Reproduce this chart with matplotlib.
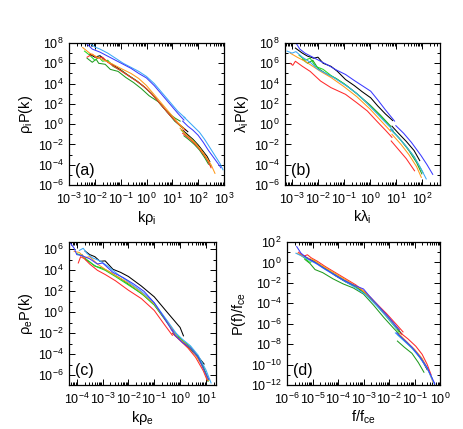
import numpy as np
import matplotlib
matplotlib.use("Agg")
import matplotlib.pyplot as plt
from matplotlib.ticker import FixedLocator, NullFormatter, LogLocator

plt.rcParams['font.family'] = ['Liberation Sans', 'DejaVu Sans']
plt.rcParams['mathtext.default'] = 'regular'

# colours of the series
COLORS = {'black': '#000000', 'blue': '#3a3aff', 'lightblue': '#3aa8f8',
          'red': '#ff2a2a', 'orange': '#ff9a1a', 'green': '#22d822',
          'darkgreen': '#1f9a1f'}

# ---------------- panel (a): (log10 k rho_i, log10 P) ----------------
a_black_lo = [(-2.2,6.9),(-2.0,6.6),(-1.8,6.75),(-1.6,6.3),(-1.3,5.85),(-1.0,5.35),(-0.7,4.8),(-0.4,4.3),(-0.1,3.7),(0.2,3.0),(0.5,2.1),(0.8,1.2),(1.1,0.3),(1.4,-0.3),(1.6,-0.75)]
a_black_hi = [(1.4,-0.6),(1.6,-1.05),(1.8,-1.5),(2.0,-2.05),(2.2,-2.7),(2.35,-3.2),(2.45,-3.7)]
a_red_lo = [(-2.3,6.6),(-2.1,6.9),(-1.9,6.5),(-1.7,6.6),(-1.5,6.1),(-1.2,5.6),(-0.9,5.1),(-0.6,4.6),(-0.3,4.1),(0.0,3.5),(0.3,2.7),(0.6,1.8),(0.9,0.9),(1.2,0.1),(1.5,-0.6)]
a_red_hi = [(1.4,-0.9),(1.6,-1.3),(1.8,-1.75),(2.0,-2.3),(2.2,-2.95),(2.35,-3.5),(2.5,-4.3)]
a_orange_lo = [(-2.47,7.55),(-2.2,7.0),(-1.9,6.6),(-1.6,6.25),(-1.3,5.9),(-1.0,5.5),(-0.6,5.0),(-0.3,4.5),(0.0,3.8),(0.3,2.9),(0.6,2.0),(0.9,1.1),(1.2,0.2),(1.45,-0.45)]
a_orange_hi = [(1.3,-0.4),(1.5,-0.95),(1.7,-1.4),(1.9,-1.9),(2.1,-2.5),(2.3,-3.2),(2.5,-4.0),(2.65,-4.85)]
a_green_lo = [(-2.4,7.2),(-2.2,6.8),(-2.0,6.3),(-1.85,6.6),(-1.7,6.2),(-1.5,6.3),(-1.3,5.7),(-1.0,5.3),(-0.7,4.8),(-0.4,4.3),(-0.1,3.7),(0.2,3.0),(0.5,2.1),(0.8,1.2),(1.1,0.3),(1.4,-0.4)]
a_green_hi = [(1.35,-0.6),(1.6,-1.2),(1.8,-1.6),(2.0,-2.2),(2.2,-2.9),(2.35,-3.5),(2.5,-4.2)]
a_darkgreen_lo = [(-2.3,6.5),(-2.1,6.1),(-1.95,6.4),(-1.85,6.0),(-1.6,5.9),(-1.4,5.4),(-1.1,5.2),(-0.8,4.6),(-0.5,4.1),(-0.2,3.5),(0.1,2.8),(0.46,2.2),(0.8,1.2),(1.1,0.6),(1.3,0.3)]
a_darkgreen_hi = [(1.45,-1.15),(1.65,-1.55),(1.85,-2.0),(2.05,-2.55),(2.25,-3.3),(2.4,-3.95)]
a_blue_lo = [(-2.34,8.0),(-2.1,7.4),(-1.8,7.1),(-1.5,6.7),(-1.2,6.3),(-0.9,5.9),(-0.6,5.5),(-0.3,5.0),(0.0,4.55),(0.3,3.8),(0.6,2.9),(0.9,2.0),(1.2,1.1),(1.45,0.4)]
a_blue_hi = [(1.4,0.3),(1.6,-0.2),(1.8,-0.6),(2.0,-1.1),(2.2,-1.8),(2.4,-2.6),(2.6,-3.3),(2.8,-4.0),(2.88,-4.3)]
a_lightblue_lo = [(-2.2,8.0),(-2.0,7.6),(-1.8,7.4),(-1.5,7.0),(-1.2,6.5),(-0.9,6.0),(-0.6,5.6),(-0.3,5.2),(0.0,4.7),(0.3,4.0),(0.6,3.1),(0.9,2.2),(1.2,1.3),(1.5,0.6)]
a_lightblue_hi = [(1.45,0.7),(1.65,0.2),(1.85,-0.3),(2.05,-0.8),(2.25,-1.5),(2.45,-2.3),(2.65,-3.1),(2.85,-3.9),(2.96,-4.5)]

# ---------------- panel (b): (log10 k lambda_i, log10 P) ----------------
b_blue_lo = [(-2.87,8.1),(-2.7,7.4),(-2.5,7.0),(-2.2,6.6),(-1.9,6.2),(-1.6,5.8),(-1.3,5.35),(-0.94,4.9),(-0.6,4.3),(-0.3,3.8),(0.03,3.25),(0.3,2.4),(0.6,1.4),(0.95,0.3)]
b_blue_hi = [(1.0,-0.15),(1.3,-0.9),(1.6,-1.8),(1.97,-3.1),(2.2,-4.0),(2.42,-4.95)]
b_black_lo = [(-2.87,7.5),(-2.6,7.0),(-2.4,6.7),(-2.16,6.5),(-2.0,6.6),(-1.8,6.0),(-1.5,5.7),(-1.25,5.2),(-0.94,4.4),(-0.6,3.8),(-0.3,3.2),(0.03,2.6),(0.3,1.8),(0.6,1.0),(0.88,0.35)]
b_black_hi = [(0.85,-0.2),(1.1,-0.9),(1.4,-1.7),(1.7,-2.6),(1.92,-3.6)]
b_lightblue_lo = [(-3.19,7.2),(-3.0,7.0),(-2.85,7.15),(-2.6,6.6),(-2.3,6.1),(-2.0,5.4),(-1.7,5.0),(-1.4,4.6),(-1.1,4.1),(-0.8,3.6),(-0.5,3.0),(-0.2,2.3),(0.1,1.5),(0.4,0.7),(0.7,-0.1),(0.9,-0.6)]
b_lightblue_hi = [(0.8,-0.55),(1.1,-1.3),(1.4,-2.2),(1.7,-3.2),(1.95,-4.3),(2.17,-5.4)]
b_red_lo = [(-3.07,6.0),(-2.97,5.8),(-2.87,6.2),(-2.6,5.7),(-2.3,5.2),(-1.9,4.25),(-1.5,3.6),(-0.94,2.94),(-0.5,2.1),(-0.1,1.3),(0.3,0.2),(0.6,-0.6),(0.85,-1.3)]
b_red_hi = [(0.82,-1.66),(1.1,-2.5),(1.4,-3.4),(1.72,-4.6)]
b_orange_lo = [(-3.07,7.0),(-2.8,6.6),(-2.5,6.2),(-2.2,5.7),(-1.9,5.2),(-1.5,4.6),(-1.0,3.7),(-0.5,2.7),(0.0,1.5),(0.4,0.4),(0.8,-0.7)]
b_orange_hi = [(0.85,-1.0),(1.2,-2.0),(1.5,-3.0),(1.8,-4.2),(1.98,-5.25)]
b_green_lo = [(-2.73,6.8),(-2.5,6.3),(-2.3,6.5),(-2.1,5.7),(-1.8,5.4),(-1.5,4.8),(-1.0,4.0),(-0.5,3.0),(0.0,1.8),(0.4,0.8),(0.8,-0.3)]
b_green_hi = [(0.8,-0.5),(1.1,-1.3),(1.4,-2.2),(1.7,-3.2),(2.04,-4.76)]
b_darkgreen_lo = [(-2.6,6.4),(-2.4,6.0),(-2.2,6.3),(-2.0,5.5),(-1.7,5.0),(-1.3,4.5),(-0.9,3.8),(-0.5,3.0),(0.0,1.9),(0.4,0.9),(0.8,-0.2)]
b_darkgreen_hi = [(0.85,-0.6),(1.2,-1.6),(1.5,-2.6),(1.8,-3.8),(2.0,-4.9)]

# ---------------- panel (c): (log10 k rho_e, log10 P) ----------------
c_black_lo = [(-3.68,5.84),(-3.5,5.5),(-3.3,5.3),(-3.1,4.86),(-2.9,4.9),(-2.6,4.1),(-2.3,3.8),(-2.0,3.41),(-1.5,2.5),(-1.0,1.47),(-0.5,0.0),(0.0,-1.45),(0.13,-2.25)]
c_black_hi = [(-0.06,-2.4),(0.2,-3.0),(0.5,-3.8),(0.75,-4.4),(0.93,-4.94)]
c_blue_lo = [(-4.26,6.64),(-4.1,6.1),(-4.0,5.5),(-3.8,5.4),(-3.5,5.1),(-3.2,4.6),(-3.0,4.7),(-2.6,3.8),(-2.2,3.3),(-1.8,2.7),(-1.4,2.0),(-1.0,0.9),(-0.6,-0.6),(-0.3,-1.8)]
c_blue_hi = [(-0.3,-1.7),(-0.2,-2.2),(0.1,-2.9),(0.4,-3.4),(0.7,-4.3),(1.0,-5.9),(1.1,-6.4)]
c_lightblue_lo = [(-3.9,5.9),(-3.75,6.1),(-3.6,5.6),(-3.4,5.2),(-3.1,4.9),(-2.8,4.4),(-2.4,3.6),(-2.0,2.9),(-1.5,2.0),(-1.0,0.9),(-0.5,-0.8),(-0.1,-2.2)]
c_lightblue_hi = [(-0.2,-1.9),(0.1,-2.6),(0.4,-3.2),(0.7,-4.1),(1.0,-5.5),(1.2,-6.75)]
c_red_lo = [(-3.94,4.7),(-3.85,5.3),(-3.7,5.1),(-3.5,4.6),(-3.2,4.0),(-2.9,3.6),(-2.5,3.0),(-2.0,2.1),(-1.5,1.3),(-1.0,0.17),(-0.6,-1.2),(-0.3,-2.2)]
c_red_hi = [(-0.3,-2.0),(0.0,-2.7),(0.3,-3.4),(0.6,-4.3),(0.9,-5.6),(1.05,-6.5)]
c_orange_lo = [(-4.1,5.8),(-3.9,5.7),(-3.7,5.2),(-3.5,5.3),(-3.2,4.6),(-2.9,4.1),(-2.5,3.5),(-2.0,2.8),(-1.5,1.9),(-1.0,0.8),(-0.5,-0.9),(-0.2,-2.0)]
c_orange_hi = [(-0.35,-1.6),(-0.1,-2.4),(0.2,-3.0),(0.5,-3.7),(0.8,-4.9),(1.1,-6.5)]
c_green_lo = [(-4.0,5.6),(-3.8,5.4),(-3.6,5.0),(-3.4,4.6),(-3.2,4.3),(-2.9,4.0),(-2.5,3.4),(-2.0,2.6),(-1.5,1.8),(-1.0,0.7),(-0.5,-0.9),(-0.1,-2.3)]
c_green_hi = [(-0.2,-2.0),(0.1,-2.7),(0.4,-3.3),(0.7,-4.2),(1.0,-5.8),(1.12,-6.5)]
c_darkgreen_lo = [(-3.8,5.5),(-3.65,5.0),(-3.5,4.8),(-3.3,4.4),(-3.0,4.2),(-2.7,3.8),(-2.3,3.2),(-1.9,2.5),(-1.4,1.6),(-1.0,0.7),(-0.5,-1.0),(-0.2,-2.0)]
c_darkgreen_hi = [(-0.3,-2.0),(0.0,-2.6),(0.3,-3.3),(0.6,-4.0),(0.9,-5.2),(1.08,-6.6)]

# ---------------- panel (d): (log10 f/fce, log10 P/fce) ----------------
d_blue_lo = [(-5.62,1.55),(-5.45,0.9),(-5.2,0.4),(-4.9,0.0),(-4.6,-0.5),(-4.2,-1.1),(-3.8,-1.7),(-3.4,-2.2),(-3.0,-2.6),(-2.8,-3.2),(-2.4,-4.3),(-2.0,-5.4),(-1.6,-6.6)]
d_blue_hi = [(-1.7,-6.9),(-1.4,-7.6),(-1.1,-8.3),(-0.8,-9.2),(-0.5,-10.3),(-0.2,-11.9)]
d_lightblue_lo = [(-5.65,0.9),(-5.4,0.6),(-5.1,0.2),(-4.8,-0.2),(-4.5,-0.7),(-4.1,-1.3),(-3.7,-1.9),(-3.3,-2.5),(-2.9,-3.2),(-2.5,-4.2),(-2.1,-5.3),(-1.7,-6.5)]
d_lightblue_hi = [(-1.75,-6.9),(-1.4,-7.7),(-1.1,-8.4),(-0.8,-9.3),(-0.5,-10.4),(-0.22,-11.9)]
d_red_lo = [(-5.55,1.0),(-5.35,0.6),(-5.2,0.75),(-5.05,0.45),(-4.8,0.1),(-4.5,-0.4),(-4.1,-1.0),(-3.7,-1.6),(-3.3,-2.2),(-2.9,-3.0),(-2.5,-4.0),(-2.1,-5.0),(-1.7,-6.1),(-1.45,-6.8)]
d_red_hi = [(-1.55,-6.9),(-1.25,-7.5),(-0.95,-8.2),(-0.7,-9.0),(-0.5,-10.0),(-0.35,-11.0)]
d_orange_lo = [(-5.6,0.9),(-5.3,0.5),(-5.0,0.3),(-4.7,-0.2),(-4.3,-0.8),(-3.9,-1.4),(-3.5,-2.0),(-3.1,-2.6),(-2.7,-3.5),(-2.3,-4.6),(-1.9,-5.8),(-1.6,-6.6)]
d_orange_hi = [(-1.6,-7.0),(-1.3,-7.8),(-1.0,-8.5),(-0.7,-9.4),(-0.45,-10.6),(-0.28,-11.7)]
d_green_lo = [(-5.5,0.8),(-5.3,0.4),(-5.1,0.0),(-4.95,0.2),(-4.7,-0.3),(-4.3,-0.9),(-3.9,-1.5),(-3.5,-2.1),(-3.1,-2.7),(-2.7,-3.6),(-2.3,-4.7),(-1.9,-5.9),(-1.6,-6.8)]
d_green_hi = [(-1.65,-7.1),(-1.3,-7.9),(-1.0,-8.6),(-0.7,-9.5),(-0.45,-10.6),(-0.3,-11.4)]
d_darkgreen_lo = [(-5.3,0.3),(-5.1,-0.1),(-4.9,-0.7),(-4.6,-1.0),(-4.2,-1.6),(-3.8,-2.1),(-3.4,-2.5),(-3.0,-3.1),(-2.6,-4.2),(-2.2,-5.4),(-1.8,-6.5),(-1.6,-7.0)]
d_darkgreen_hi = [(-1.67,-7.7),(-1.4,-8.3),(-1.1,-8.9),(-0.85,-9.8),(-0.63,-10.75)]
d_black_lo = [(-5.4,0.7),(-5.1,0.3),(-4.8,-0.1),(-4.5,-0.6),(-4.1,-1.3),(-3.7,-1.9),(-3.3,-2.4),(-2.9,-3.1),(-2.5,-4.1),(-2.1,-5.2),(-1.7,-6.4),(-1.5,-7.0)]
d_black_hi = [(-1.6,-7.1),(-1.3,-7.8),(-1.0,-8.6),(-0.7,-9.6),(-0.5,-10.5)]

PANELS = [
    dict(tag='(a)', pos=[69, 43, 224, 185], xlim=(-3, 3), ylim=(-6, 8),
         xlabel=r'k$\rho_i$', ylabel=r'$\rho_i$P(k)', prefix='a'),
    dict(tag='(b)', pos=[285, 43, 440, 185], xlim=(-3.27, 2.7), ylim=(-6, 8),
         xlabel=r'k$\lambda_i$', ylabel=r'$\lambda_i$P(k)', prefix='b'),
    dict(tag='(c)', pos=[69, 242, 216, 385], xlim=(-4.3, 1.39), ylim=(-6.94, 6.7),
         xlabel=r'k$\rho_e$', ylabel=r'$\rho_e$P(k)', prefix='c'),
    dict(tag='(d)', pos=[287, 242, 440, 385], xlim=(-6, 0), ylim=(-12, 2),
         xlabel=r'f/f$_{ce}$', ylabel=r'P(f)/f$_{ce}$', prefix='d'),
]
ORDER = ['black', 'darkgreen', 'green', 'red', 'orange', 'lightblue', 'blue']

W, H = 463, 429
fig = plt.figure(figsize=(W / 100, H / 100), dpi=100)
g = globals()
for p in PANELS:
    l, t, r, b = p['pos']
    ax = fig.add_axes([l / W, 1 - b / H, (r - l) / W, (b - t) / H])
    ax.set_xscale('log')
    ax.set_yscale('log')
    for c in ORDER:
        for seg in ('lo', 'hi'):
            arr = np.array(g[f"{p['prefix']}_{c}_{seg}"])
            ax.plot(np.power(10.0, arr[:, 0]), np.power(10.0, arr[:, 1]),
                    color=COLORS[c], lw=0.75)
    ax.set_xlim(10 ** p['xlim'][0], 10 ** p['xlim'][1])
    ax.set_ylim(10 ** p['ylim'][0], 10 ** p['ylim'][1])
    # ticks
    xe = np.arange(np.ceil(p['xlim'][0]), np.floor(p['xlim'][1]) + 1)
    ax.xaxis.set_major_locator(FixedLocator(10.0 ** xe))
    ax.set_xticklabels([r'$10^{%d}$' % e for e in xe])
    ax.xaxis.set_minor_locator(LogLocator(base=10, subs=np.arange(2, 10), numticks=50))
    ax.xaxis.set_minor_formatter(NullFormatter())
    ye_all = np.arange(np.ceil(p['ylim'][0]), np.floor(p['ylim'][1]) + 1)
    ye = [e for e in ye_all if int(e) % 2 == 0]
    ax.yaxis.set_major_locator(FixedLocator(10.0 ** np.array(ye)))
    ax.set_yticklabels([r'$10^{%d}$' % e for e in ye])
    ax.yaxis.set_minor_locator(FixedLocator(10.0 ** ye_all))
    ax.yaxis.set_minor_formatter(NullFormatter())
    ax.tick_params(which='both', direction='in', top=True, right=True,
                   labelsize=9, width=0.7)
    ax.tick_params(axis='x', which='major', pad=5)
    ax.tick_params(axis='y', which='major', pad=4)
    ax.tick_params(which='major', length=4)
    ax.tick_params(which='minor', length=2)
    for s in ax.spines.values():
        s.set_linewidth(0.9)
    ax.set_xlabel(p['xlabel'], fontsize=10.5, labelpad=1)
    ax.set_ylabel(p['ylabel'], fontsize=10.5, labelpad=2)
    ax.text(0.04, 0.05, p['tag'], transform=ax.transAxes, fontsize=11.5,
            ha='left', va='bottom')

fig.savefig('out.png', dpi=100)
